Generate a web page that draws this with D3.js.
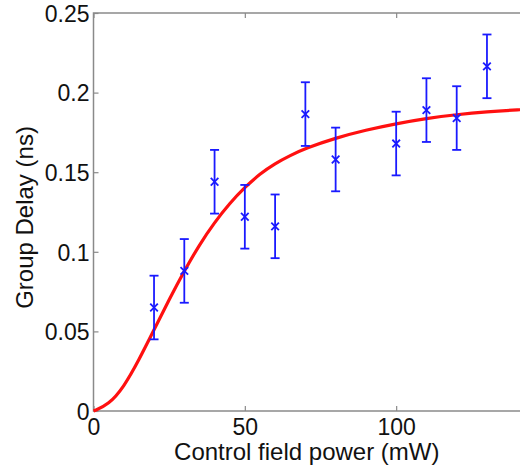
<!DOCTYPE html>
<html><head><meta charset="utf-8">
<script src="https://cdn.jsdelivr.net/npm/d3@7"></script>
<style>html,body{margin:0;padding:0;background:#fff;overflow:hidden}svg{display:block}</style>
</head><body>
<svg id="c" width="520" height="469"></svg>
<script>
// data
const powers = [20, 30, 40, 50, 60, 70, 80, 100, 110, 120, 130];
const delays = [0.065, 0.088, 0.144, 0.122, 0.116, 0.1865, 0.158, 0.168, 0.189, 0.184, 0.2165];
const errors = [0.02, 0.02, 0.02, 0.02, 0.02, 0.02, 0.02, 0.02, 0.02, 0.02, 0.02];
const fitX = [0, 5, 10, 15, 20, 25, 30, 35, 40, 45, 50, 55, 60, 65, 70, 80, 90, 100, 110, 120, 130, 140, 150];
const fitY = [0, 0.004, 0.015, 0.032, 0.051, 0.07, 0.088, 0.1045, 0.1185, 0.1305, 0.1405, 0.149, 0.1555, 0.1605, 0.165, 0.1715, 0.1765, 0.1805, 0.1838, 0.1862, 0.188, 0.1892, 0.19];
const xTicks = [0, 50, 100, 150];
const xTickLabels = ["0", "50", "100", ""];
const yTicks = [0, 0.05, 0.1, 0.15, 0.2, 0.25];
const yTickLabels = ["0", "0.05", "0.1", "0.15", "0.2", "0.25"];

const svg = d3.select("#c");
const x = d3.scaleLinear().domain([0, 150]).range([93.5, 547.5]);
const y = d3.scaleLinear().domain([0, 0.25]).range([411, 13]);
const axisCol = "#8a8a8a";
const font = "'Liberation Sans', Arial, Helvetica, sans-serif";

// box
svg.append("rect").attr("x", x(0)).attr("y", y(0.25)).attr("width", x(150) - x(0)).attr("height", y(0) - y(0.25))
  .attr("fill", "none").attr("stroke", axisCol).attr("stroke-width", 1.5);

// axes with inward ticks
const xAxis = d3.axisBottom(x).tickValues(xTicks).tickSize(-5).tickFormat((d, i) => xTickLabels[i]).tickPadding(8);
const gx = svg.append("g").attr("transform", `translate(0,${y(0)})`).call(xAxis);
const xAxisTop = d3.axisTop(x).tickValues(xTicks).tickSize(-5).tickFormat("");
const gxt = svg.append("g").attr("transform", `translate(0,${y(0.25)})`).call(xAxisTop);
const yAxis = d3.axisLeft(y).tickValues(yTicks).tickSize(-5).tickFormat((d, i) => yTickLabels[i]).tickPadding(6);
const gy = svg.append("g").attr("transform", `translate(${x(0)},0)`).call(yAxis);
[gx, gxt, gy].forEach(g => {
  g.select(".domain").remove();
  g.selectAll(".tick line").attr("stroke", axisCol).attr("stroke-width", 1.2);
  g.selectAll("text").attr("fill", "#111").style("font-family", font).style("font-size", "23px");
});
gx.selectAll("text").attr("dy", "0.68em");
gy.selectAll("text").attr("x", -4).attr("dy", "0.36em");

// fit curve
const line = d3.line().x(d => x(d[0])).y(d => y(d[1])).curve(d3.curveBasis);
svg.append("path").datum(fitX.map((v, i) => [v, fitY[i]]))
  .attr("d", line).attr("fill", "none").attr("stroke", "#ff1010").attr("stroke-width", 3.2);

// error bars
const pts = powers.map((p, i) => ({p, v: delays[i], e: errors[i]}));
const eb = svg.append("g").attr("stroke", "#1a1aff").attr("stroke-width", 1.8).attr("fill", "none");
const cap = 4.5, mk = 3.8;
pts.forEach(d => {
  const cx = x(d.p), top = y(d.v + d.e), bot = y(d.v - d.e), cy = y(d.v);
  eb.append("line").attr("x1", cx).attr("x2", cx).attr("y1", top).attr("y2", bot);
  eb.append("line").attr("x1", cx - cap).attr("x2", cx + cap).attr("y1", top).attr("y2", top);
  eb.append("line").attr("x1", cx - cap).attr("x2", cx + cap).attr("y1", bot).attr("y2", bot);
  eb.append("line").attr("x1", cx - mk).attr("x2", cx + mk).attr("y1", cy - mk).attr("y2", cy + mk);
  eb.append("line").attr("x1", cx - mk).attr("x2", cx + mk).attr("y1", cy + mk).attr("y2", cy - mk);
});

// labels
svg.append("text").attr("x", (x(0) + 520) / 2).attr("y", 460)
  .attr("text-anchor", "middle").style("font-family", font).style("font-size", "24px").attr("fill", "#111")
  .text("Control field power (mW)");
svg.append("text").attr("transform", "translate(33,217.5) rotate(-90)")
  .attr("text-anchor", "middle").style("font-family", font).style("font-size", "24px").attr("fill", "#111")
  .text("Group Delay (ns)");
</script>
</body></html>
